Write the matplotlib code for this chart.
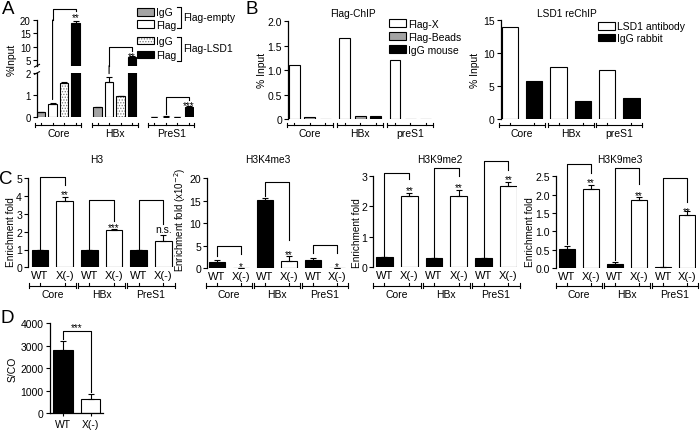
import matplotlib
matplotlib.use('Agg')
import matplotlib.pyplot as plt
from matplotlib.patches import Patch, ConnectionPatch
from matplotlib.lines import Line2D
from matplotlib.legend_handler import HandlerTuple
import matplotlib.transforms as mtrans
import numpy as np

plt.rcParams['font.family'] = ['Liberation Sans', 'DejaVu Sans']
plt.rcParams['hatch.linewidth'] = 0.6
plt.rcParams['axes.linewidth'] = 0.9

# ---------------- data ----------------
groups_A = ['Core', 'HBx', 'PreS1']
A_igg_empty = [0.22, 0.45, 0.005]
A_igg_empty_err = [0.03, 0.01, 0.0]
A_flag_empty = [0.58, 1.58, 0.03]
A_flag_empty_err = [0.07, 0.25, 0.01]
A_igg_lsd1 = [1.53, 0.97, 0.02]
A_igg_lsd1_err = [0.06, 0.01, 0.0]
A_flag_lsd1 = [19.0, 6.0, 0.48]
A_flag_lsd1_err = [0.8, 0.3, 0.03]

groups_B = ['Core', 'HBx', 'preS1']
B_flag_x = [1.10, 1.65, 1.21]
B_flag_beads = [0.035, 0.065, 0.0]
B_igg_mouse = [0.01, 0.065, 0.0]
B_lsd1_ab = [14.0, 7.9, 7.4]
B_igg_rabbit = [5.7, 2.8, 3.2]

groups_C = ['Core', 'HBx', 'PreS1']
cond_C = ['WT', 'X(-)']
H3_wt = [1.0, 1.0, 1.0]
H3_wt_err = [0.0, 0.0, 0.0]
H3_x = [3.7, 2.1, 1.5]
H3_x_err = [0.25, 0.05, 0.32]
K4_wt = [1.4, 15.2, 1.85]
K4_wt_err = [0.45, 0.3, 0.3]
K4_x = [0.0, 1.5, 0.05]
K4_x_err = [0.0, 1.1, 0.0]
K9me2_wt = [0.33, 0.29, 0.29]
K9me2_wt_err = [0.01, 0.01, 0.005]
K9me2_x = [2.32, 2.34, 2.65]
K9me2_x_err = [0.11, 0.2, 0.15]
K9me3_wt = [0.52, 0.11, 0.02]
K9me3_wt_err = [0.07, 0.06, 0.0]
K9me3_x = [2.15, 1.86, 1.45]
K9me3_x_err = [0.1, 0.08, 0.1]

D_cond = ['WT', 'X(-)']
D_vals = [2815, 640]
D_err = [385, 220]

# ---------------- helpers ----------------
W, H = 700, 431
fig = plt.figure(figsize=(7, 4.31), dpi=100)


def fx(px):
    return px / W


def fy(py):
    return 1 - py / H


def add_ax(l, t, r, b):
    ax = fig.add_axes([l / W, 1 - b / H, (r - l) / W, (b - t) / H])
    ax.patch.set_alpha(0)
    for s in ['top', 'right', 'bottom']:
        ax.spines[s].set_visible(False)
    ax.tick_params(axis='y', direction='out', length=3, width=0.8, pad=1.5)
    ax.tick_params(axis='x', length=0)
    return ax


LW = 0.8
GREY = '#a3a3a3'


def bars(ax, x, h, fc, err=None, width=0.7):
    ax.bar(x, h, width=width, color=fc, edgecolor='k', linewidth=LW, zorder=2)
    if err is not None:
        ax.errorbar(x, h, yerr=[np.zeros(len(h)), err], fmt='none', ecolor='k',
                    elinewidth=LW, capsize=2.2, capthick=LW, zorder=3)


def group_brackets(ax, centers, labels, ypx, lab_ypx, ext=0.5, fs=7.5, inner=True):
    tr = mtrans.blended_transform_factory(ax.transData, fig.transFigure)
    for cs, lab in zip(centers, labels):
        x0, x1 = cs[0] - ext, cs[-1] + ext
        ax.plot([x0, x1], [fy(ypx), fy(ypx)], transform=tr, color='k', lw=LW, clip_on=False)
        for xe in (x0, x1):
            ax.plot([xe, xe], [fy(ypx - 2.3), fy(ypx + 2.3)], transform=tr, color='k', lw=LW, clip_on=False)
        if inner:
            for xc in cs:
                ax.plot([xc, xc], [fy(ypx), fy(ypx - 2.3)], transform=tr, color='k', lw=LW, clip_on=False)
        ax.text((x0 + x1) / 2, fy(lab_ypx), lab, transform=tr, ha='center', va='center', fontsize=fs)


def star(ax, x, y, txt, fs=7):
    tr = ax.transData + mtrans.ScaledTranslation(0, -0.57 * fs / 72, fig.dpi_scale_trans)
    ax.text(x, y, txt, transform=tr, ha='center', va='baseline', fontsize=fs, clip_on=False)


def sig(ax, x0, x1, ytop, yl, yr, txt, ty, fs=7, ns=False):
    ax.plot([x0, x0, x1, x1], [yl, ytop, ytop, yr], color='k', lw=LW, clip_on=False)
    if ns:
        ax.text(x1, ty, txt, ha='center', va='center', fontsize=7.5, clip_on=False)
    else:
        star(ax, x1, ty, txt, fs)


def ylab(xpx, ypx, txt, fs=7.2):
    fig.text(fx(xpx), fy(ypx), txt, rotation=90, ha='center', va='center', fontsize=fs)


def letter(xpx, ypx, txt, fs=13.5):
    fig.text(fx(xpx), fy(ypx), txt, ha='center', va='center', fontsize=fs)


# ================= Panel A =================
nA = len(groups_A)
strideA = 4.9
xA = [np.arange(nA) * strideA + j for j in range(4)]
ax_up = add_ax(37, 21, 193.5, 66.7)
ax_lo = add_ax(37, 74, 193.5, 118.3)
for ax in (ax_up, ax_lo):
    ax.set_xlim(-0.35, 2 * strideA + 3 + 0.42)
    ax.set_xticks([])
    ax.tick_params(axis='y', labelsize=7)
ax_up.set_ylim(2.8, 20)
ax_up.set_yticks([5, 10, 15, 20])
ax_lo.set_ylim(0, 2)
ax_lo.set_yticks([0, 1, 2])

for ax in (ax_up, ax_lo):
    bars(ax, xA[0], A_igg_empty, GREY, A_igg_empty_err, 0.72)
    bars(ax, xA[1], A_flag_empty, 'white', A_flag_empty_err, 0.72)
    ax.bar(xA[2], A_igg_lsd1, width=0.72, color='white', edgecolor='#7a7a7a', hatch='......',
           linewidth=0, zorder=2)
    ax.bar(xA[2], A_igg_lsd1, width=0.72, color='none', edgecolor='k', linewidth=LW, zorder=2.1)
    ax.errorbar(xA[2], A_igg_lsd1, yerr=[np.zeros(nA), A_igg_lsd1_err], fmt='none', ecolor='k',
                elinewidth=LW, capsize=2.2, capthick=LW, zorder=3)
    bars(ax, xA[3], A_flag_lsd1, 'black', A_flag_lsd1_err, 0.72)

group_brackets(ax_lo, [[xA[0][i], xA[1][i], xA[2][i], xA[3][i]] for i in range(nA)],
               groups_A, 126, 134)

# break marks on y axis
for yb in (66.7, 74):
    fig.add_artist(Line2D([fx(34.5), fx(39.5)], [fy(yb + 1.3), fy(yb - 1.3)], color='k', lw=LW))

# significance A
ax_up.plot([xA[1][0], xA[1][0], xA[3][0], xA[3][0]], [20, 24.1, 24.1, 23.2], color='k', lw=LW, clip_on=False)
fig.add_artist(ConnectionPatch(xyA=(xA[1][0], 20.0), coordsA=ax_up.transData,
                               xyB=(xA[1][0], 0.8), coordsB=ax_lo.transData,
                               color='k', lw=LW, annotation_clip=False))
star(ax_up, xA[3][0], 21.9, '**')
ax_up.plot([xA[1][1], xA[1][1], xA[3][1], xA[3][1]], [2.8, 9.95, 9.95, 8.3], color='k', lw=LW, clip_on=False)
fig.add_artist(ConnectionPatch(xyA=(xA[1][1], 2.8), coordsA=ax_up.transData,
                               xyB=(xA[1][1], 1.97), coordsB=ax_lo.transData,
                               color='k', lw=LW, annotation_clip=False))
star(ax_up, xA[3][1], 7.4, '**')
sig(ax_lo, xA[1][2], xA[3][2], 0.9, 0.15, 0.8, '***', 0.66)

# legends A
h_grey = Patch(fc=GREY, ec='k', lw=LW)
h_white = Patch(fc='white', ec='k', lw=LW)
h_dot = (Patch(fc='white', ec='#7a7a7a', hatch='......', lw=0), Patch(fc='none', ec='k', lw=LW))
h_black = Patch(fc='black', ec='k', lw=LW)
leg_kw = dict(frameon=False, fontsize=7.5, handlelength=1.6, handleheight=0.7, handletextpad=0.25,
              borderpad=0, borderaxespad=0, bbox_transform=fig.transFigure, loc='upper left')
leg1 = ax_up.legend([h_grey, h_white], ['IgG', 'Flag'], bbox_to_anchor=(fx(137), fy(8.5)),
                    labelspacing=0.2, **leg_kw)
leg2 = ax_lo.legend([h_dot, h_black], ['IgG', 'Flag'], bbox_to_anchor=(fx(137), fy(37)),
                    labelspacing=0.38, handler_map={tuple: HandlerTuple(ndivide=1, pad=0)}, **leg_kw)
for (t, b, lab, ly) in [(7.5, 29, 'Flag-empty', 18.3), (37.5, 61.5, 'Flag-LSD1', 49.3)]:
    fig.add_artist(Line2D([fx(177), fx(180.5), fx(180.5), fx(177)], [fy(t), fy(t), fy(b), fy(b)],
                          color='k', lw=LW))
    fig.text(fx(183.5), fy(ly), lab, ha='left', va='center', fontsize=7.5)

ylab(12, 60, '%Input', fs=7.5)
letter(8, 10, 'A')

# ================= Panel B (Flag-ChIP) =================
strideB = 3.25
xB = [np.arange(3) * strideB + j for j in range(3)]
axb1 = add_ax(288.3, 22.3, 435, 120)
axb1.set_xlim(-0.4, 2 * strideB + 2 + 0.6)
axb1.set_ylim(0, 2)
axb1.set_yticks([0, 0.5, 1.0, 1.5, 2.0])
axb1.set_yticklabels(['0', '0.5', '1.0', '1.5', '2.0'])
axb1.tick_params(axis='y', labelsize=7.5)
axb1.set_xticks([])
bars(axb1, xB[0], B_flag_x, 'white', None, 0.68)
bars(axb1, xB[1], B_flag_beads, GREY, None, 0.72)
bars(axb1, xB[2], B_igg_mouse, 'black', None, 0.72)
group_brackets(axb1, [[xB[0][i], xB[1][i], xB[2][i]] for i in range(3)], groups_B, 126, 134, ext=0.5)
axb1.legend([h_white, h_grey, h_black], ['Flag-X', 'Flag-Beads', 'IgG mouse'],
            bbox_to_anchor=(fx(389), fy(19.5)), labelspacing=0.3, **leg_kw)
fig.text(fx(353), fy(14), 'Flag-ChIP', ha='center', va='center', fontsize=7.3)
ylab(262, 70, '% Input', fs=7.5)
letter(252, 10, 'B')

# ================= Panel B (LSD1 reChIP) =================
xB2 = [np.arange(3) * 2 + j for j in range(2)]
axb2 = add_ax(501, 21, 641, 120)
axb2.set_xlim(-0.37, 5.4)
axb2.set_ylim(0, 15)
axb2.set_yticks([0, 5, 10, 15])
axb2.tick_params(axis='y', labelsize=7.5)
axb2.set_xticks([])
bars(axb2, xB2[0], B_lsd1_ab, 'white', None, 0.68)
bars(axb2, xB2[1], B_igg_rabbit, 'black', None, 0.68)
group_brackets(axb2, [[xB2[0][i], xB2[1][i]] for i in range(3)], groups_B, 126, 134, ext=0.45)
axb2.legend([h_white, h_black], ['LSD1 antibody', 'IgG rabbit'],
            bbox_to_anchor=(fx(598), fy(22.5)), labelspacing=0.15, **leg_kw)
fig.text(fx(567), fy(14), 'LSD1 reChIP', ha='center', va='center', fontsize=7.3)
ylab(475, 70, '% Input', fs=7.5)

# ================= Panel C =================
xC = [np.arange(3) * 2 + j for j in range(2)]
tick_pos = np.sort(np.concatenate(xC))
tick_lab = cond_C * 3


def panelC(l, t, r, b, xlim, ylim, yticks, ytl, wt, wte, xx, xxe, title, tx):
    ax = add_ax(l, t, r, b)
    ax.set_xlim(*xlim)
    ax.set_ylim(*ylim)
    ax.set_yticks(yticks)
    if ytl is not None:
        ax.set_yticklabels(ytl)
    ax.tick_params(axis='y', labelsize=7.6)
    ax.set_xticks(tick_pos)
    ax.set_xticklabels(tick_lab, fontsize=8)
    ax.tick_params(axis='x', length=0, pad=2)
    bars(ax, xC[0], wt, 'black', wte, 0.67)
    bars(ax, xC[1], xx, 'white', xxe, 0.67)
    group_brackets(ax, [[xC[0][i], xC[1][i]] for i in range(3)], groups_C, 286.7, 295.5, ext=0.46)
    fig.text(fx(tx), fy(160), title, ha='center', va='center', fontsize=7.3)
    return ax


axc1 = panelC(28.3, 179.3, 178, 268.3, (-0.47, 5.59), (0, 5), [0, 1, 2, 3, 4, 5], None,
              H3_wt, H3_wt_err, H3_x, H3_x_err, 'H3', 96.7)
sig(axc1, xC[0][0], xC[1][0], 5.06, 1.0, 4.6, '**', 4.25)
sig(axc1, xC[0][1], xC[1][1], 3.78, 1.0, 2.6, '***', 2.38)
sig(axc1, xC[0][2], xC[1][2], 3.78, 1.0, 2.45, 'n.s.', 2.15, ns=True)
ylab(11, 232, 'Enrichment fold')
letter(6, 180, 'C')

axc2 = panelC(207.3, 179.3, 347, 269, (-0.4, 5.41), (0, 20), [0, 5, 10, 15, 20], None,
              K4_wt, K4_wt_err, K4_x, K4_x_err, 'H3K4me3', 268)
sig(axc2, xC[0][0], xC[1][0], 5.0, 2.6, 3.1, '*', 1.1)
sig(axc2, xC[0][1], xC[1][1], 19.25, 16.0, 6.3, '**', 3.7)
sig(axc2, xC[0][2], xC[1][2], 5.1, 3.4, 3.4, '*', 1.1)
ylab(180.5, 220, r'Enrichment fold (x10$^{-2}$)', fs=7)

axc3 = panelC(373.3, 176.7, 517, 268.3, (-0.45, 5.35), (0, 3), [0, 1, 2, 3], None,
              K9me2_wt, K9me2_wt_err, K9me2_x, K9me2_x_err, 'H3K9me2', 440)
sig(axc3, xC[0][0], xC[1][0], 3.1, 0.36, 2.9, '**', 2.6)
sig(axc3, xC[0][1], xC[1][1], 3.24, 0.32, 3.0, '**', 2.72)
sig(axc3, xC[0][2], xC[1][2], 3.49, 0.32, 3.2, '**', 2.98)
ylab(357, 233, 'Enrichment fold')

axc4 = panelC(556, 177.3, 696, 269, (-0.46, 5.37), (0, 2.5), [0, 0.5, 1.0, 1.5, 2.0, 2.5],
              ['0.0', '0.5', '1.0', '1.5', '2.0', '2.5'],
              K9me3_wt, K9me3_wt_err, K9me3_x, K9me3_x_err, 'H3K9me3', 620)
sig(axc4, xC[0][0], xC[1][0], 2.84, 0.65, 2.6, '**', 2.42)
sig(axc4, xC[0][1], xC[1][1], 2.72, 0.22, 2.29, '**', 2.06)
sig(axc4, xC[0][2], xC[1][2], 2.45, 0.05, 1.79, '**', 1.62)
ylab(530, 232, 'Enrichment fold')

# ================= Panel D =================
xD = np.arange(len(D_cond))
axd = add_ax(50, 324.3, 103, 414.3)
axd.spines['bottom'].set_visible(True)
axd.set_xlim(-0.47, 1.45)
axd.set_ylim(0, 4000)
axd.set_yticks([0, 1000, 2000, 3000, 4000])
axd.tick_params(axis='y', labelsize=7.5)
axd.set_xticks(xD)
axd.set_xticklabels(D_cond, fontsize=7.5)
axd.tick_params(axis='x', length=2.5, width=0.8, pad=1.5)
axd.bar(xD[0], D_vals[0], width=0.7, color='black', edgecolor='k', linewidth=LW)
axd.bar(xD[1], D_vals[1], width=0.7, color='white', edgecolor='k', linewidth=LW)
axd.errorbar(xD, D_vals, yerr=[np.zeros(2), D_err], fmt='none', ecolor='k', elinewidth=LW,
             capsize=2.5, capthick=LW)
axd.plot([xD[0], xD[0], xD[1], xD[1]], [3300, 3674, 3674, 930], color='k', lw=LW, clip_on=False)
star(axd, (xD[0] + xD[1]) / 2, 3950, '***')
ylab(12.5, 369, 'S/CO', fs=7.5)
letter(7, 319, 'D')

fig.savefig('out.png', dpi=100)
